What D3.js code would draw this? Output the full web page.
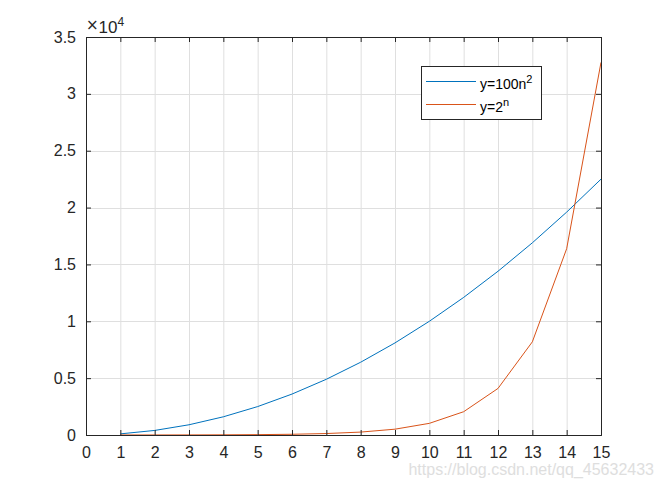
<!DOCTYPE html>
<html><head><meta charset="utf-8">
<script src="https://cdn.jsdelivr.net/npm/d3@7"></script>
<style>body{margin:0;background:#fff;} svg{display:block;}</style>
</head><body>
<svg id="c" width="664" height="490"></svg>
<script>
const nValues = [1,2,3,4,5,6,7,8,9,10,11,12,13,14,15];
const squareSeries = [100,400,900,1600,2500,3600,4900,6400,8100,10000,12100,14400,16900,19600,22500];
const powSeries = [2,4,8,16,32,64,128,256,512,1024,2048,4096,8192,16384,32768];
const xTicks = [0,1,2,3,4,5,6,7,8,9,10,11,12,13,14,15];
const yTicks = [0,5000,10000,15000,20000,25000,30000,35000];
const yTickLabels = ["0","0.5","1","1.5","2","2.5","3","3.5"];
const seriesNames = ["y=100n", "y=2"];
const seriesSups = ["2", "n"];
const colors = ["#0072BD", "#D95319"];

const svg = d3.select("#c");
const L = 86, R = 601, T = 37, B = 435;
const x = d3.scaleLinear().domain([0,15]).range([L,R]);
const y = d3.scaleLinear().domain([0,35000]).range([B,T]);
const font = "Arial, 'Liberation Sans', Helvetica, sans-serif";

// grid
const g = svg.append("g");
g.selectAll(".gx").data(xTicks.slice(1,-1)).enter().append("line")
 .attr("x1",d=>x(d)+0.5).attr("x2",d=>x(d)+0.5).attr("y1",T).attr("y2",B)
 .attr("stroke","#dfdfdf").attr("stroke-width",1);
g.selectAll(".gy").data(yTicks.slice(1,-1)).enter().append("line")
 .attr("y1",d=>Math.round(y(d))+0.5).attr("y2",d=>Math.round(y(d))+0.5).attr("x1",L).attr("x2",R)
 .attr("stroke","#dfdfdf").attr("stroke-width",1);

// lines
const line = d3.line().x((d,i)=>x(nValues[i])).y(d=>y(d));
[squareSeries, powSeries].forEach((s,k)=>{
  svg.append("path").datum(s).attr("d",line).attr("fill","none")
    .attr("stroke",colors[k]).attr("stroke-width",1);
});

// axes
const ac = "#262626";
const xb = d3.axisBottom(x).tickValues(xTicks).tickSize(-5).tickPadding(12).tickFormat(d3.format("d"));
const xt = d3.axisTop(x).tickValues(xTicks).tickSize(-5).tickFormat("");
const yl = d3.axisLeft(y).tickValues(yTicks).tickSize(-5).tickPadding(10).tickFormat((d,i)=>yTickLabels[i]);
const yr = d3.axisRight(y).tickValues(yTicks).tickSize(-5).tickFormat("");
function style(sel){
  sel.selectAll("path").attr("stroke",ac).attr("stroke-width",1);
  sel.selectAll("line").attr("stroke",ac);
  sel.selectAll("text").attr("fill",ac).style("font-family",font).style("font-size","16px");
}
svg.append("g").attr("transform",`translate(0,${B})`).call(xb).call(style);
svg.append("g").attr("transform",`translate(0,${T})`).call(xt).call(style);
svg.append("g").attr("transform",`translate(${L},0)`).call(yl).call(style);
svg.append("g").attr("transform",`translate(${R},0)`).call(yr).call(style);

// exponent
const ex = svg.append("text").attr("x",86).attr("y",33).attr("fill",ac)
  .style("font-family",font).style("font-size","17px");
ex.append("tspan").attr("dy",-3).style("font-size","15px").style("font-family","'DejaVu Sans', sans-serif").text("\u00d7");
ex.append("tspan").attr("dy",3).text("10");
ex.append("tspan").attr("dy",-7).style("font-size","12px").text("4");

// legend
const lg = svg.append("g");
lg.append("rect").attr("x",421.5).attr("y",66.5).attr("width",120).attr("height",53)
  .attr("fill","#fff").attr("stroke",ac).attr("stroke-width",1);
const ly = [81, 104];
seriesNames.forEach((nm,k)=>{
  lg.append("line").attr("x1",426).attr("x2",476).attr("y1",ly[k]+0.5).attr("y2",ly[k]+0.5)
    .attr("stroke",colors[k]).attr("stroke-width",1);
  const t = lg.append("text").attr("x",480).attr("y",ly[k]+8).attr("fill","#000")
    .style("font-family",font).style("font-size","14px");
  t.append("tspan").text(nm);
  t.append("tspan").attr("dy",-6).style("font-size","11px").text(seriesSups[k]);
});

// watermark
svg.append("text").attr("x",654).attr("y",475).attr("text-anchor","end")
  .attr("fill","#dedede").style("font-family",font).style("font-size","16px")
  .text("https://blog.csdn.net/qq_45632433");
</script>
</body></html>
